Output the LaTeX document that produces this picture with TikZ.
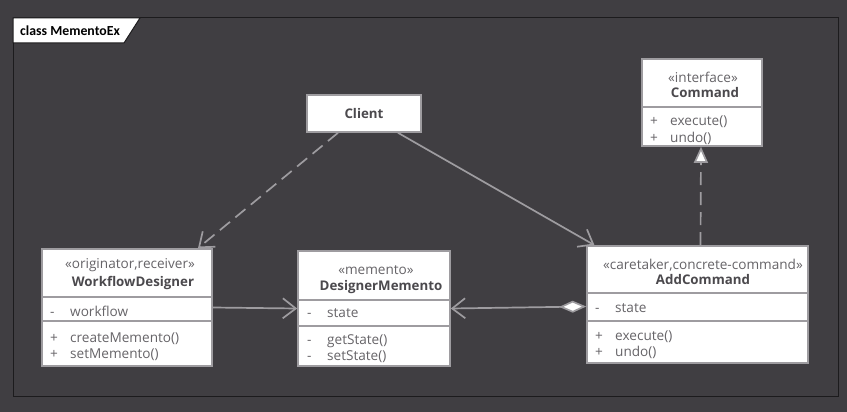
\documentclass[tikz,border=0pt]{standalone}
\usepackage{fontspec}
\setmainfont{Open Sans}
\newfontfamily\titlefont{Carlito}
\usetikzlibrary{arrows.meta}
\definecolor{canvas}{HTML}{403E42}
\definecolor{umlline}{HTML}{9E9CA0}
\definecolor{umltext}{HTML}{4B494D}
\definecolor{membertext}{HTML}{666468}
\definecolor{framecol}{HTML}{1C1B1D}
\newcommand{\vis}[1]{\makebox[20pt][l]{#1}}
\tikzset{
  classbox/.style={draw=umlline, fill=white, line width=1.6pt, inner sep=0pt},
  divider/.style={umlline, line width=1.4pt},
  stereo/.style={font=\fontsize{13.6}{15}\selectfont, text=membertext, inner sep=0pt},
  cname/.style={font=\fontsize{13.3}{15}\selectfont\bfseries, text=umltext, inner sep=0pt},
  member/.style={font=\fontsize{13.6}{16.5}\selectfont, text=membertext, align=left,
                 anchor=west, inner sep=0pt},
  link/.style={umlline, line width=1.7pt},
  dashlink/.style={link, dash pattern=on 13pt off 7pt},
  openhead/.style={-{Straight Barb[length=13pt, width=20pt]}},
}
\begin{document}
\begin{tikzpicture}[x=1pt, y=-1pt]
  % background and frame
  \fill[canvas] (0,0) rectangle (847,412);
  \draw[framecol, line width=1pt] (13,18) rectangle (838,396);
  \filldraw[fill=white, draw=framecol, line width=1pt] (13,18) -- (140,18) -- (124,43) -- (13,43) -- cycle;
  \node [anchor=west, inner sep=0pt, font=\titlefont\bfseries\fontsize{13.8}{15}\selectfont] (title) at (20,31) {class MementoEx};

  % classes
  \node [classbox, minimum width=114pt, minimum height=37pt, font=\fontsize{13.3}{15}\selectfont\bfseries, text=umltext] (client) at (364,113.5) {Client};

  \node [classbox, minimum width=120pt, minimum height=87pt] (cmd) at (702,102.5) {};
  \node [stereo] (cmdst) at (703,77) {«interface»};
  \node [cname]  (cmdnm) at (705,93) {Command};
  \draw [divider] (cmd.west |- 0,107) -- (cmd.east |- 0,107);
  \node [member] (cmdops) at (650,130) {\vis{+}execute()\\ \vis{+}undo()};

  \node [classbox, minimum width=170pt, minimum height=117pt] (wfd) at (127,307.5) {};
  \node [stereo] (wfdst) at (130,265) {«originator,receiver»};
  \node [cname]  (wfdnm) at (133,283) {WorkflowDesigner};
  \draw [divider] (wfd.west |- 0,297) -- (wfd.east |- 0,297);
  \draw [divider] (wfd.west |- 0,321) -- (wfd.east |- 0,321);
  \node [member] (wfdatt) at (50,311) {\vis{-}workflow};
  \node [member] (wfdops) at (50,346.5) {\vis{+}createMemento()\\ \vis{+}setMemento()};

  \node [classbox, minimum width=152pt, minimum height=115pt] (dm) at (374,308.5) {};
  \node [stereo] (dmst) at (376,270) {«memento»};
  \node [cname]  (dmnm) at (381,287) {DesignerMemento};
  \draw [divider] (dm.west |- 0,300) -- (dm.east |- 0,300);
  \draw [divider] (dm.west |- 0,326) -- (dm.east |- 0,326);
  \node [member] (dmatt) at (307,313) {\vis{-}state};
  \node [member] (dmops) at (307,348.5) {\vis{-}getState()\\ \vis{-}setState()};

  \node [classbox, minimum width=221pt, minimum height=117pt] (addc) at (697.5,304.5) {};
  \node [stereo] (addcst) at (703,265) {«caretaker,concrete-command»};
  \node [cname]  (addcnm) at (703,280) {AddCommand};
  \draw [divider] (addc.west |- 0,293) -- (addc.east |- 0,293);
  \draw [divider] (addc.west |- 0,321) -- (addc.east |- 0,321);
  \node [member] (addcatt) at (595,308) {\vis{-}state};
  \node [member] (addcops) at (595,344.5) {\vis{+}execute()\\ \vis{+}undo()};

  % relations
  \draw [dashlink, openhead] ([xshift=-26pt]client.south) -- ([xshift=71pt]wfd.north);
  \draw [link, openhead] ([xshift=34pt]client.south) -- ([xshift=-103pt]addc.north);
  \draw [link, openhead] (wfd.east) -- (dm.west);
  \draw [link, {Diamond[open, fill=white, length=27pt, width=12pt]}-{Straight Barb[length=13pt, width=20pt]}]
        ([yshift=-2pt]addc.west) -- ([yshift=0pt]dm.east);
  \draw [dashlink, -{Triangle[open, fill=white, length=16pt, width=14pt]}]
        ([xshift=3pt]addc.north) -- ([xshift=-1pt]cmd.south);
\end{tikzpicture}
\end{document}
